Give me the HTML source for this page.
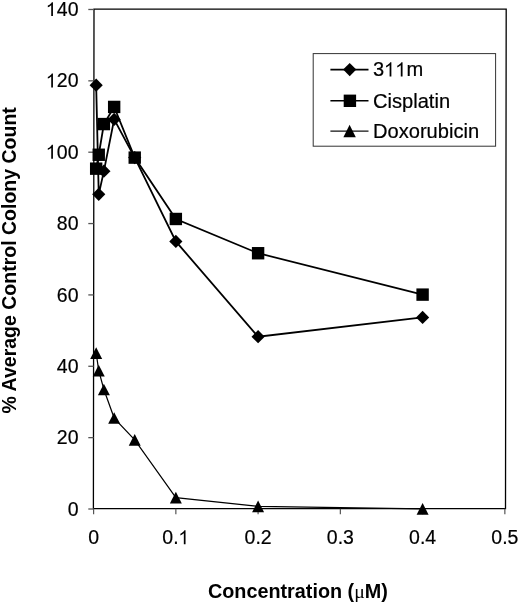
<!DOCTYPE html><html><head><meta charset="utf-8"><style>html,body{margin:0;padding:0;background:#fff;width:520px;height:603px;overflow:hidden}svg{display:block;filter:grayscale(1)}text{font-family:"Liberation Sans",sans-serif;fill:#000}</style></head><body>
<svg width="520" height="603" viewBox="0 0 520 603">
<path d="M94.0 9.18L506.2 9.18L505.5 508.70L93.4 508.70Z" fill="none" stroke="#000" stroke-width="1.3"/>
<line x1="88.3" x2="93.60" y1="509.00" y2="509.00" stroke="#555" stroke-width="1.3"/>
<g stroke="#000" stroke-width="0.2"><g transform="matrix(1 0 0 1.04 0 -20.624)"><text x="78.50" y="515.60" font-size="19.5" text-anchor="end">0</text></g></g>
<line x1="88.3" x2="93.60" y1="437.64" y2="437.64" stroke="#555" stroke-width="1.3"/>
<g stroke="#000" stroke-width="0.2"><g transform="matrix(1 0 0 1.04 0 -17.770)"><text x="78.50" y="444.24" font-size="19.5" text-anchor="end">20</text></g></g>
<line x1="88.3" x2="93.60" y1="366.28" y2="366.28" stroke="#555" stroke-width="1.3"/>
<g stroke="#000" stroke-width="0.2"><g transform="matrix(1 0 0 1.04 0 -14.915)"><text x="78.50" y="372.88" font-size="19.5" text-anchor="end">40</text></g></g>
<line x1="88.3" x2="93.60" y1="294.92" y2="294.92" stroke="#555" stroke-width="1.3"/>
<g stroke="#000" stroke-width="0.2"><g transform="matrix(1 0 0 1.04 0 -12.061)"><text x="78.50" y="301.52" font-size="19.5" text-anchor="end">60</text></g></g>
<line x1="88.3" x2="93.60" y1="223.56" y2="223.56" stroke="#555" stroke-width="1.3"/>
<g stroke="#000" stroke-width="0.2"><g transform="matrix(1 0 0 1.04 0 -9.206)"><text x="78.50" y="230.16" font-size="19.5" text-anchor="end">80</text></g></g>
<line x1="88.3" x2="93.60" y1="152.20" y2="152.20" stroke="#555" stroke-width="1.3"/>
<g stroke="#000" stroke-width="0.2"><g transform="matrix(1 0 0 1.04 0 -6.352)"><text x="56.81 67.66" y="158.80" font-size="19.5">00</text><path transform="translate(45.679,158.800) scale(0.009521,-0.009114)" d="M763 0H583V1147Q518 1085 412.5 1023T223 930V1104Q374 1175 487 1276T647 1472H763V0Z"/></g></g>
<line x1="88.3" x2="93.60" y1="80.84" y2="80.84" stroke="#555" stroke-width="1.3"/>
<g stroke="#000" stroke-width="0.2"><g transform="matrix(1 0 0 1.04 0 -3.498)"><text x="56.81 67.66" y="87.44" font-size="19.5">20</text><path transform="translate(45.679,87.440) scale(0.009521,-0.009114)" d="M763 0H583V1147Q518 1085 412.5 1023T223 930V1104Q374 1175 487 1276T647 1472H763V0Z"/></g></g>
<line x1="88.3" x2="93.60" y1="9.48" y2="9.48" stroke="#555" stroke-width="1.3"/>
<g stroke="#000" stroke-width="0.2"><g transform="matrix(1 0 0 1.04 0 -0.643)"><text x="56.81 67.66" y="16.08" font-size="19.5">40</text><path transform="translate(45.679,16.080) scale(0.009521,-0.009114)" d="M763 0H583V1147Q518 1085 412.5 1023T223 930V1104Q374 1175 487 1276T647 1472H763V0Z"/></g></g>
<line x1="93.60" x2="93.60" y1="508.70" y2="514.3" stroke="#555" stroke-width="1.2"/>
<g stroke="#000" stroke-width="0.2"><g transform="matrix(1 0 0 1.04 0 -21.768)"><text x="93.60" y="544.20" font-size="19.5" text-anchor="middle">0</text></g></g>
<line x1="175.85" x2="175.85" y1="508.70" y2="514.3" stroke="#555" stroke-width="1.2"/>
<g stroke="#000" stroke-width="0.2"><g transform="matrix(1 0 0 1.04 0 -21.768)"><text x="162.30 173.14" y="544.20" font-size="19.5">0.</text><path transform="translate(178.273,544.200) scale(0.009521,-0.009114)" d="M763 0H583V1147Q518 1085 412.5 1023T223 930V1104Q374 1175 487 1276T647 1472H763V0Z"/></g></g>
<line x1="258.10" x2="258.10" y1="508.70" y2="514.3" stroke="#555" stroke-width="1.2"/>
<g stroke="#000" stroke-width="0.2"><g transform="matrix(1 0 0 1.04 0 -21.768)"><text x="258.10" y="544.20" font-size="19.5" text-anchor="middle">0.2</text></g></g>
<line x1="340.35" x2="340.35" y1="508.70" y2="514.3" stroke="#555" stroke-width="1.2"/>
<g stroke="#000" stroke-width="0.2"><g transform="matrix(1 0 0 1.04 0 -21.768)"><text x="340.35" y="544.20" font-size="19.5" text-anchor="middle">0.3</text></g></g>
<line x1="422.60" x2="422.60" y1="508.70" y2="514.3" stroke="#555" stroke-width="1.2"/>
<g stroke="#000" stroke-width="0.2"><g transform="matrix(1 0 0 1.04 0 -21.768)"><text x="422.60" y="544.20" font-size="19.5" text-anchor="middle">0.4</text></g></g>
<line x1="504.85" x2="504.85" y1="508.70" y2="514.3" stroke="#555" stroke-width="1.2"/>
<g stroke="#000" stroke-width="0.2"><g transform="matrix(1 0 0 1.04 0 -21.768)"><text x="504.85" y="544.20" font-size="19.5" text-anchor="middle">0.5</text></g></g>
<polyline points="96.17,353.14 98.74,370.62 103.88,389.53 114.16,418.07 134.72,439.84 175.85,497.64 258.10,506.38 422.60,508.88" fill="none" stroke="#000" stroke-width="1.2"/>
<polyline points="96.17,85.18 98.74,194.36 103.88,171.17 114.16,119.43 134.72,157.61 175.85,241.46 258.10,336.72 422.60,317.46" fill="none" stroke="#000" stroke-width="1.8"/>
<polyline points="96.17,168.67 98.74,154.75 103.88,124.07 114.16,106.94 134.72,157.61 175.85,218.98 258.10,253.23 422.60,294.62" fill="none" stroke="#000" stroke-width="1.8"/>
<g fill="#000">
<path d="M96.17 347.34L102.17 358.94L90.17 358.94Z"/>
<path d="M98.74 364.82L104.74 376.42L92.74 376.42Z"/>
<path d="M103.88 383.73L109.88 395.33L97.88 395.33Z"/>
<path d="M114.16 412.27L120.16 423.87L108.16 423.87Z"/>
<path d="M134.72 434.04L140.72 445.64L128.72 445.64Z"/>
<path d="M175.85 491.84L181.85 503.44L169.85 503.44Z"/>
<path d="M258.10 500.58L264.10 512.18L252.10 512.18Z"/>
<path d="M422.60 503.08L428.60 514.68L416.60 514.68Z"/>
<path d="M96.17 78.58L102.77 85.18L96.17 91.78L89.57 85.18Z"/>
<path d="M98.74 187.76L105.34 194.36L98.74 200.96L92.14 194.36Z"/>
<path d="M103.88 164.57L110.48 171.17L103.88 177.77L97.28 171.17Z"/>
<path d="M114.16 112.83L120.76 119.43L114.16 126.03L107.56 119.43Z"/>
<path d="M134.72 151.01L141.32 157.61L134.72 164.21L128.12 157.61Z"/>
<path d="M175.85 234.86L182.45 241.46L175.85 248.06L169.25 241.46Z"/>
<path d="M258.10 330.12L264.70 336.72L258.10 343.32L251.50 336.72Z"/>
<path d="M422.60 310.86L429.20 317.46L422.60 324.06L416.00 317.46Z"/>
<rect x="89.97" y="162.47" width="12.40" height="12.40"/>
<rect x="92.54" y="148.55" width="12.40" height="12.40"/>
<rect x="97.68" y="117.87" width="12.40" height="12.40"/>
<rect x="107.96" y="100.74" width="12.40" height="12.40"/>
<rect x="128.53" y="151.41" width="12.40" height="12.40"/>
<rect x="169.65" y="212.78" width="12.40" height="12.40"/>
<rect x="251.90" y="247.03" width="12.40" height="12.40"/>
<rect x="416.40" y="288.42" width="12.40" height="12.40"/>
</g>
<rect x="313.2" y="53.6" width="182.4" height="92.6" fill="#fff" stroke="#333" stroke-width="1"/>
<line x1="330.4" x2="368.5" y1="69.6" y2="69.6" stroke="#000" stroke-width="1.6"/>
<line x1="330.4" x2="368.5" y1="100.8" y2="100.8" stroke="#000" stroke-width="1.6"/>
<line x1="330.4" x2="368.5" y1="131.2" y2="131.2" stroke="#111" stroke-width="1.2"/>
<g fill="#000"><path d="M349.70 63.00L356.30 69.60L349.70 76.20L343.10 69.60Z"/><rect x="343.70" y="94.60" width="12.40" height="12.40"/><path d="M349.60 124.80L355.80 137.20L343.40 137.20Z"/></g>
<g stroke="#000" stroke-width="0.2"><g transform="matrix(1 0 0 1.03 0 -2.292)"><text x="373.00 406.54" y="76.40" font-size="20.1">3m</text><path transform="translate(383.884,76.400) scale(0.009814,-0.009394)" d="M763 0H583V1147Q518 1085 412.5 1023T223 930V1104Q374 1175 487 1276T647 1472H763V0Z"/><path transform="translate(395.063,76.400) scale(0.009814,-0.009394)" d="M763 0H583V1147Q518 1085 412.5 1023T223 930V1104Q374 1175 487 1276T647 1472H763V0Z"/></g></g>
<g stroke="#000" stroke-width="0.2"><text x="373" y="107.60" font-size="20.1">Cisplatin</text></g>
<g stroke="#000" stroke-width="0.2"><text x="373" y="138.00" font-size="20.1">Doxorubicin</text></g>
<text x="297.9" y="598" font-size="19.8" font-weight="bold" text-anchor="middle">Concentration (<tspan font-weight="normal" font-family="Liberation Serif">μ</tspan>M)</text>
<text transform="translate(15.6,260.3) rotate(-90)" font-size="19.5" font-weight="bold" text-anchor="middle">% Average Control Colony Count</text>
</svg></body></html>
